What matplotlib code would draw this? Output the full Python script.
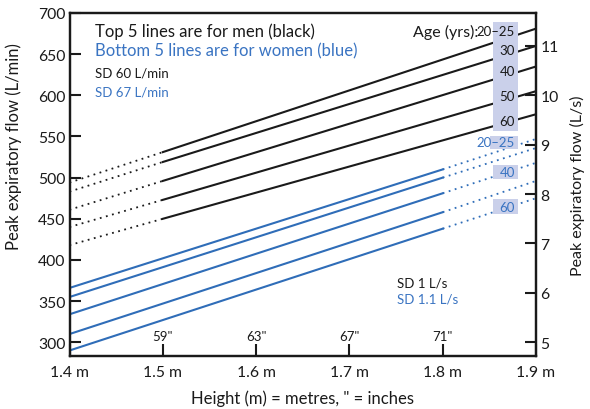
import matplotlib
matplotlib.use("Agg")
import matplotlib.pyplot as plt
from matplotlib.patches import Rectangle

plt.rcParams['font.family'] = ['Lato', 'DejaVu Sans']

# data (L/min)
ages = ["20–25", "30", "40", "50", "60"]
men_heights = [1.4, 1.5, 1.9]          # dotted 1.4-1.5, solid 1.5-1.9
men_pef = [
    [494, 531, 681],
    [483, 519, 660],
    [461, 496, 635],
    [440, 473, 605],
    [418, 450, 577],
]
women_heights = [1.4, 1.8, 1.9]        # solid 1.4-1.8, dotted 1.8-1.9
women_pef = [
    [366, 510, 547],
    [355, 500, 536],
    [334, 481, 518],
    [310, 458, 496],
    [290, 438, 475],
]
women_box_ages = ["20–25", "40", "60"]

x_ticks = [1.4, 1.5, 1.6, 1.7, 1.8, 1.9]
x_labels = ["1.4 m", "1.5 m", "1.6 m", "1.7 m", "1.8 m", "1.9 m"]
inch_pos = [1.5, 1.6, 1.7, 1.8]
inch_labels = ['59"', '63"', '67"', '71"']
lmin_ticks = [300, 350, 400, 450, 500, 550, 600, 650, 700]
ls_ticks = [5, 6, 7, 8, 9, 10, 11]

black = "#1a1a1a"
blue = "#2f6db8"
tblue = "#3a74c2"
boxc = "#cad0ea"
dots = (0, (1, 2.5))

fig = plt.figure(figsize=(5.9, 4.1), dpi=100)
ax = fig.add_axes([0.1178, 0.130, 0.7907, 0.8359])
ax.set_xlim(1.4, 1.9)
ax.set_ylim(283.7, 700)

for row in men_pef:
    ax.plot(men_heights[:2], row[:2], color=black, lw=1.3, ls=dots, zorder=2)
    ax.plot(men_heights[1:], row[1:], color=black, lw=1.5, zorder=2)
for row in women_pef:
    ax.plot(women_heights[:2], row[:2], color=blue, lw=1.5, zorder=2)
    ax.plot(women_heights[1:], row[1:], color=blue, lw=1.3, ls=dots, zorder=2)

# age label boxes
ax.add_patch(Rectangle((1.854, 557), 0.0267, 132.4, color=boxc, lw=0, zorder=3))
men_label_y = [678, 655.4, 630, 599.5, 569.2]
for a, y in zip(ages, men_label_y):
    ax.text(1.8775, y, a, ha="right", va="center", fontsize=9.5, color=black, zorder=4)
ax.text(1.8385, 678, "Age (yrs):", ha="right", va="center", fontsize=11.5, color=black, zorder=4)

wbox = [(1.851, 534.8, 16.2), (1.854, 498.4, 17.3), (1.854, 455.8, 18.2)]
wlab_y = [543, 507, 464]
for (bx, by, bh), a, y in zip(wbox, women_box_ages, wlab_y):
    ax.add_patch(Rectangle((bx, by), 1.8807 - bx, bh, color=boxc, lw=0, zorder=3))
    ax.text(1.8775, y, a, ha="right", va="center", fontsize=9.5, color=tblue, zorder=4)

# notes
ax.text(0.0547, 0.9475, "Top 5 lines are for men (black)", transform=ax.transAxes,
        fontsize=12, color=black, va="center")
ax.text(0.0547, 0.890, "Bottom 5 lines are for women (blue)", transform=ax.transAxes,
        fontsize=12, color=tblue, va="center")
ax.text(0.0547, 0.8249, "SD 60 L/min", transform=ax.transAxes, fontsize=9.5, color=black, va="center")
ax.text(0.0547, 0.7695, "SD 67 L/min", transform=ax.transAxes, fontsize=9.5, color=tblue, va="center")
ax.text(0.7014, 0.2142, "SD 1 L/s", transform=ax.transAxes, fontsize=9.5, color=black, va="center")
ax.text(0.7014, 0.1655, "SD 1.1 L/s", transform=ax.transAxes, fontsize=9.5, color=tblue, va="center")

for x, lab in zip(inch_pos, inch_labels):
    ax.text(x, 0.057, lab, transform=ax.get_xaxis_transform(), ha="center", va="center",
            fontsize=9.5, color=black)

ax.set_xticks(x_ticks)
ax.set_xticklabels(x_labels)
ax.set_yticks(lmin_ticks)
ax.tick_params(axis="x", direction="in", length=9, width=1.5, labelsize=11.3, pad=7, colors=black)
ax.tick_params(axis="y", direction="in", length=8, width=1.5, labelsize=11.3, pad=3, colors=black)
ax.set_xlabel('Height (m) = metres, " = inches', fontsize=12, color=black, labelpad=7)
ax.set_ylabel("Peak expiratory flow (L/min)", fontsize=12, color=black)
ax.yaxis.set_label_coords(-0.102, 0.612)

ax2 = ax.twinx()
ax2.set_ylim(283.7 / 60, 700 / 60)
ax2.set_yticks(ls_ticks)
ax2.tick_params(axis="y", direction="in", length=8, width=1.5, labelsize=11.3, pad=3, colors=black)
ax2.set_ylabel("Peak expiratory flow (L/s)", fontsize=11.5, color=black, labelpad=8)

for a in (ax, ax2):
    for s in a.spines.values():
        s.set_linewidth(1.6)
        s.set_color(black)

fig.savefig("out.png", dpi=100)
